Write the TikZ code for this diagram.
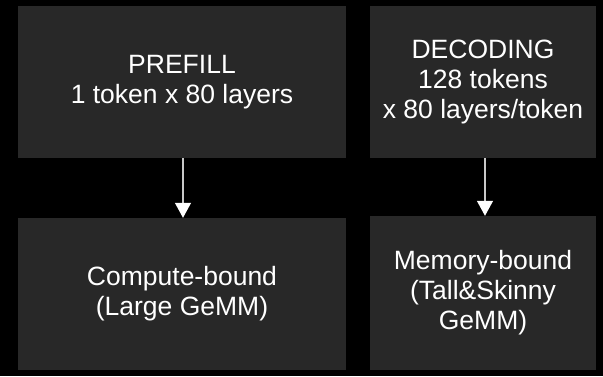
\documentclass[tikz,border=0pt]{standalone}
\usepackage{fontspec}
\setmainfont{Liberation Sans}
\usetikzlibrary{arrows.meta}
\definecolor{panel}{HTML}{282828}
\definecolor{shaft}{HTML}{C8C8C8}
\tikzset{
  panelbox/.style={fill=panel, inner sep=0pt, text=white, align=center,
    font=\fontsize{26.5}{30}\selectfont},
  flow/.style={draw=shaft, line width=1.3pt,
    -{Triangle[length=15pt,width=16pt,fill=white,color=white]}}
}
\begin{document}
\begin{tikzpicture}[x=1pt,y=-1pt]
  % page background
  \fill[black] (0,0) rectangle (603,376);
  \useasboundingbox (0,0) rectangle (603,376);

  % phases (top) and their cost profiles (bottom)
  \node[panelbox, minimum width=328pt, minimum height=152pt] (prefill) at (182,82)
    {PREFILL\\1 token x 80 layers};
  \node[panelbox, minimum width=226pt, minimum height=152pt] (decode) at (483,82)
    {DECODING\\128 tokens\\x 80 layers/token};
  \node[panelbox, minimum width=328pt, minimum height=152pt] (compute) at (182,294)
    {Compute-bound\\(Large GeMM)};
  \node[panelbox, minimum width=226pt, minimum height=154pt] (memory) at (483,293)
    {Memory-bound\\(Tall\&Skinny\\GeMM)};

  % arrows from each phase down to its bound
  \draw[flow] ([xshift=1pt]prefill.south) -- ([xshift=1pt]compute.north);
  \draw[flow] ([xshift=2pt]decode.south) -- ([xshift=2pt]memory.north);
\end{tikzpicture}
\end{document}
